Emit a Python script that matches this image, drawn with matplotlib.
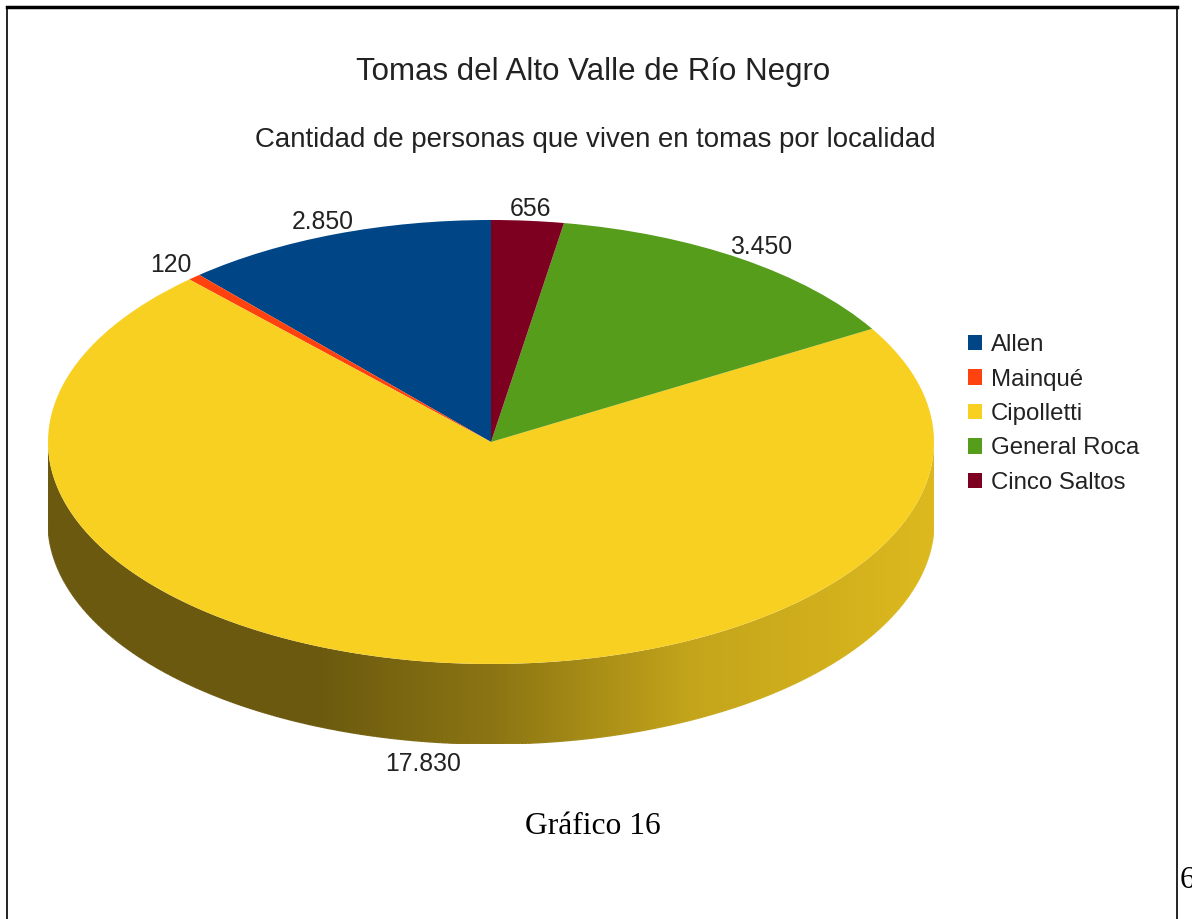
import numpy as np
import matplotlib.pyplot as plt
from matplotlib.collections import LineCollection
from matplotlib.colors import to_rgb
from matplotlib.lines import Line2D
from matplotlib.patches import Polygon

# Personas viviendo en tomas, por localidad
localidades = ['Allen', 'Mainqué', 'Cipolletti', 'General Roca', 'Cinco Saltos']
personas = [2850, 120, 17830, 3450, 656]
colores = ['#004586', '#ff420e', '#f8d022', '#579d1c', '#7e0021']

titulo = 'Tomas del Alto Valle de Río Negro'
subtitulo = 'Cantidad de personas que viven en tomas por localidad'
epigrafe = 'Gráfico 16'
pagina = '6'

plt.rcParams['font.family'] = ['Liberation Sans', 'DejaVu Sans']
texto = '#222222'

W, H = 1192, 919
fig = plt.figure(figsize=(W / 100, H / 100), dpi=100)

# capa en pixeles para textos y marco
base = fig.add_axes([0, 0, 1, 1])
base.set_xlim(0, W)
base.set_ylim(H, 0)
base.axis('off')

# torta "3D": elipse + canto inferior
cx, cy, rx, ry, alto = 491, 442, 443, 222, 80
d = alto / ry
ax = fig.add_axes([(cx - rx) / W, (H - (cy + ry + alto)) / H, 2 * rx / W, (2 * ry + alto) / H])
wedges, _ = ax.pie(personas, colors=colores, startangle=90, counterclock=True,
                   wedgeprops=dict(linewidth=0))


# sombreado del canto segun la posicion horizontal
def sombra(x):
    return np.interp(x, [-1, -0.4, 0, 0.45, 1], [0.43, 0.43, 0.56, 0.79, 0.89])


def color_canto(x):
    # angulo del frente (180..360) que cae en esa x, y la porcion que lo contiene
    t = 360 - np.degrees(np.arccos(np.clip(x, -1, 1)))
    for w, col in zip(wedges, colores):
        for k in (0, 360, -360):
            if w.theta1 <= t + k <= w.theta2:
                return np.clip(np.array(to_rgb(col)) * sombra(x), 0, 1)
    return np.array([1.0, 1.0, 1.0])


xs = np.linspace(-1, 1, 600)
grad = np.array([color_canto(x) for x in xs])[None, :, :]
im = ax.imshow(grad, extent=(-1, 1, -1 - d, 0), aspect='auto',
               interpolation='bilinear', zorder=0.5)
ts = np.radians(np.linspace(180, 360, 400))
borde_sup = np.column_stack([np.cos(ts), np.sin(ts)])
borde_inf = np.column_stack([np.cos(ts), np.sin(ts) - d])
canto = Polygon(np.vstack([borde_sup, borde_inf[::-1]]), closed=True,
                transform=ax.transData)
im.set_clip_path(canto)

# contorno inferior suavizado
segs = np.stack([borde_inf[:-1], borde_inf[1:]], axis=1)
cols = [color_canto(x) for x in (borde_inf[:-1, 0] + borde_inf[1:, 0]) / 2]
ax.add_collection(LineCollection(segs, colors=cols, linewidths=1.0, zorder=0.6))

ax.set_aspect('auto')
ax.set_xlim(-1, 1)
ax.set_ylim(-1 - d, 1)
ax.axis('off')

# etiquetas de valores
for w, v in zip(wedges, personas):
    m = np.radians((w.theta1 + w.theta2) / 2)
    x = 1.08 * np.cos(m)
    if np.sin(m) < 0:
        y = np.sin(m) - 22 / ry - d
    else:
        y = np.sin(m) + 12 / ry
    ax.text(x, y, f'{v:,}'.replace(',', '.'), ha='center', va='center',
            fontsize=17.8, color=texto, clip_on=False)

# titulos
base.text(593, 72, titulo, ha='center', va='center', fontsize=22.5, color=texto)
base.text(595, 140, subtitulo, ha='center', va='center', fontsize=19.9, color=texto)

# leyenda
base.legend(wedges, localidades, loc='upper left', bbox_to_anchor=(956, 322),
            bbox_transform=base.transData, frameon=False, fontsize=17.3,
            handlelength=0.6, handleheight=0.6, handletextpad=0.35,
            labelspacing=0.52, borderpad=0, labelcolor=texto)

# epigrafe y numero de pagina
base.text(593, 826, epigrafe, ha='center', va='center', fontsize=22.7,
          family='Liberation Serif', color='black')
base.text(1180, 880, pagina, ha='left', va='center', fontsize=22.7,
          family='Liberation Serif', color='black')

# marco
base.add_line(Line2D([7, 1177], [7, 7], color='black', lw=2.5))
base.add_line(Line2D([7, 7], [7, H], color='black', lw=1.2))
base.add_line(Line2D([1177, 1177], [7, H], color='black', lw=1.2))

fig.savefig('out.png', dpi=100)
